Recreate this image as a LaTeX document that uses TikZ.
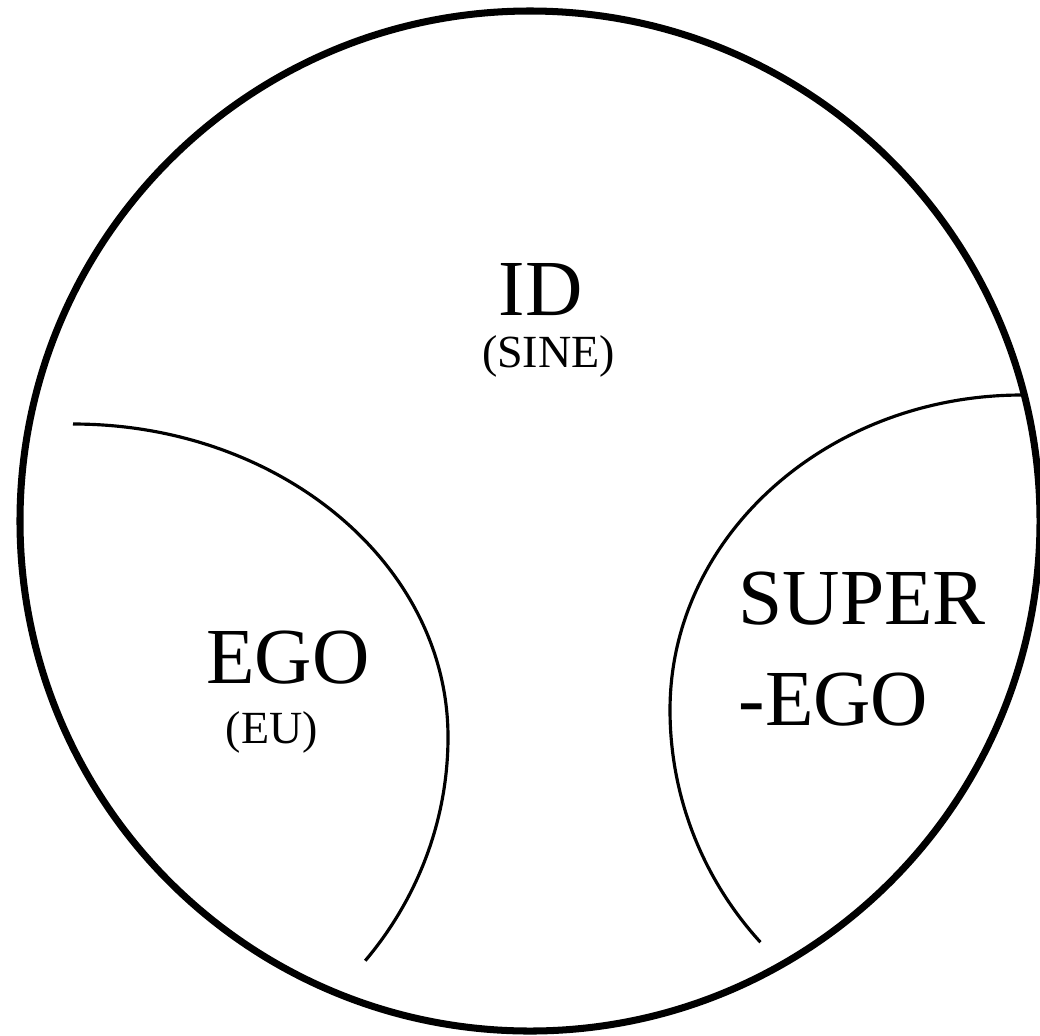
\documentclass[tikz,border=0pt]{standalone}
\usepackage{fontspec}
\setmainfont{Liberation Serif}
\begin{document}
\begin{tikzpicture}[line width=0.9pt,
  big/.style={font=\fontsize{22.6}{28.7}\selectfont, inner sep=0pt},
  small/.style={font=\fontsize{13.1}{15}\selectfont, inner sep=0pt}]
  \useasboundingbox (0,0) rectangle (10.400,10.350);
  \draw[line width=2pt] (5.300,5.140) circle (5.100);
  % ego boundary
  \draw (0.730,6.110) arc[start angle=90, end angle=0, x radius=3.750, y radius=3.130]
    arc[start angle=0, end angle=-38.8, x radius=3.750, y radius=3.570];
  % super-ego boundary
  \draw (10.220,6.400) arc[start angle=90, end angle=180, x radius=3.520, y radius=3.150]
    arc[start angle=180, end angle=222, x radius=3.520, y radius=3.470];
  \node[big, anchor=base] (id) at (5.405,7.200) {ID};
  \node[small, anchor=base] (sine) at (5.485,6.680) {(SINE)};
  \node[big, anchor=base] (ego) at (2.880,3.520) {EGO};
  \node[small, anchor=base] (eu) at (2.720,2.920) {(EU)};
  \node[big, anchor=base west, align=left] (super) at (7.370,3.100) {SUPER\\-EGO};
\end{tikzpicture}
\end{document}
